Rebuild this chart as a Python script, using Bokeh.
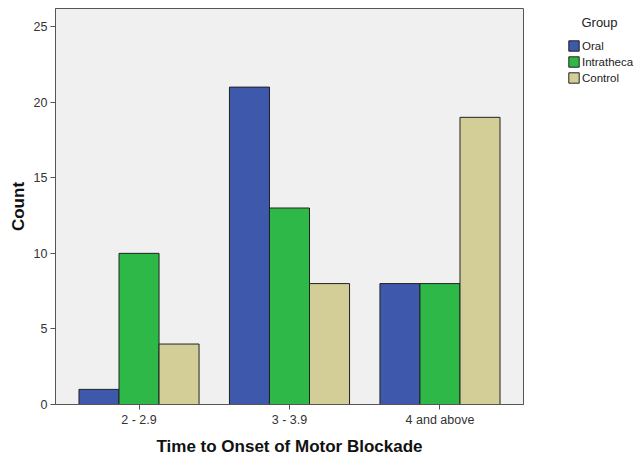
from bokeh.plotting import figure
from bokeh.models import ColumnDataSource, Range1d, Legend, LegendItem, FixedTicker
from bokeh.embed import file_html
from bokeh.resources import INLINE

categories = ["2 - 2.9", "3 - 3.9", "4 and above"]
groups = ["Oral", "Intratheca", "Control"]
oral = [1, 21, 8]
intrathecal = [10, 13, 8]
control = [4, 8, 19]
colors = ["#3E58AC", "#2EB848", "#D3CE97"]
y_ticks = [0, 5, 10, 15, 20, 25]

FW, FH = 468, 396
p = figure(frame_width=FW, frame_height=FH, output_backend="svg", toolbar_location=None,
           x_range=Range1d(-0.055, 3.055), y_range=Range1d(0, 26.2),
           min_border_left=55, min_border_top=8, min_border_bottom=40, min_border_right=108)
p.background_fill_color = "#F0F0F0"
p.border_fill_color = "white"
p.outline_line_color = "#555555"
p.outline_line_width = 1
p.xgrid.visible = False
p.ygrid.visible = False

width = 0.266
offsets = [-width, 0.0, width]
series = [oral, intrathecal, control]
renderers = []
for vals, off, col in zip(series, offsets, colors):
    src = ColumnDataSource(dict(x=[i + 0.5 + off for i in range(len(categories))], top=vals))
    r = p.vbar(x="x", top="top", bottom=0, width=width, source=src,
               fill_color=col, line_color="#222222", line_width=1)
    renderers.append(r)

p.xaxis.ticker = FixedTicker(ticks=[i + 0.5 for i in range(len(categories))])
p.xaxis.major_label_overrides = {i + 0.5: c for i, c in enumerate(categories)}
p.yaxis.ticker = FixedTicker(ticks=y_ticks)

for ax in (p.xaxis, p.yaxis):
    ax.minor_tick_line_color = None
    ax.major_tick_in = 0
    ax.major_tick_out = 5
    ax.major_label_standoff = 3
    ax.axis_line_color = "#555555"
    ax.major_tick_line_color = "#555555"
    ax.major_label_text_font = "Liberation Sans"
    ax.major_label_text_font_size = "12.5px"
    ax.major_label_text_color = "#333333"
    ax.axis_label_text_font = "Liberation Sans"
    ax.axis_label_text_font_style = "bold"
    ax.axis_label_text_font_size = "17px"
    ax.axis_label_text_color = "#111111"

p.xaxis.axis_label = "Time to Onset of Motor Blockade"
p.yaxis.axis_label = "Count"
p.xaxis.axis_label_standoff = 7
p.yaxis.axis_label_standoff = 3

legend = Legend(items=[LegendItem(label=g, renderers=[r]) for g, r in zip(groups, renderers)],
                title="\u00a0\u00a0\u00a0\u00a0Group", location=(44, FH - 4 - 72))
legend.title_text_font = "Liberation Sans"
legend.title_text_font_size = "13px"
legend.title_text_font_style = "normal"
legend.title_text_color = "#222222"
legend.title_standoff = 9
legend.label_text_font = "Liberation Sans"
legend.label_text_font_size = "11.5px"
legend.label_text_color = "#222222"
legend.glyph_width = 13
legend.glyph_height = 13
legend.label_height = 13
legend.label_standoff = 2
legend.spacing = 3
legend.padding = 2
legend.margin = 0
legend.border_line_color = None
legend.background_fill_alpha = 0
p.add_layout(legend, "right")

open("out.html", "w").write(file_html(p, INLINE))
